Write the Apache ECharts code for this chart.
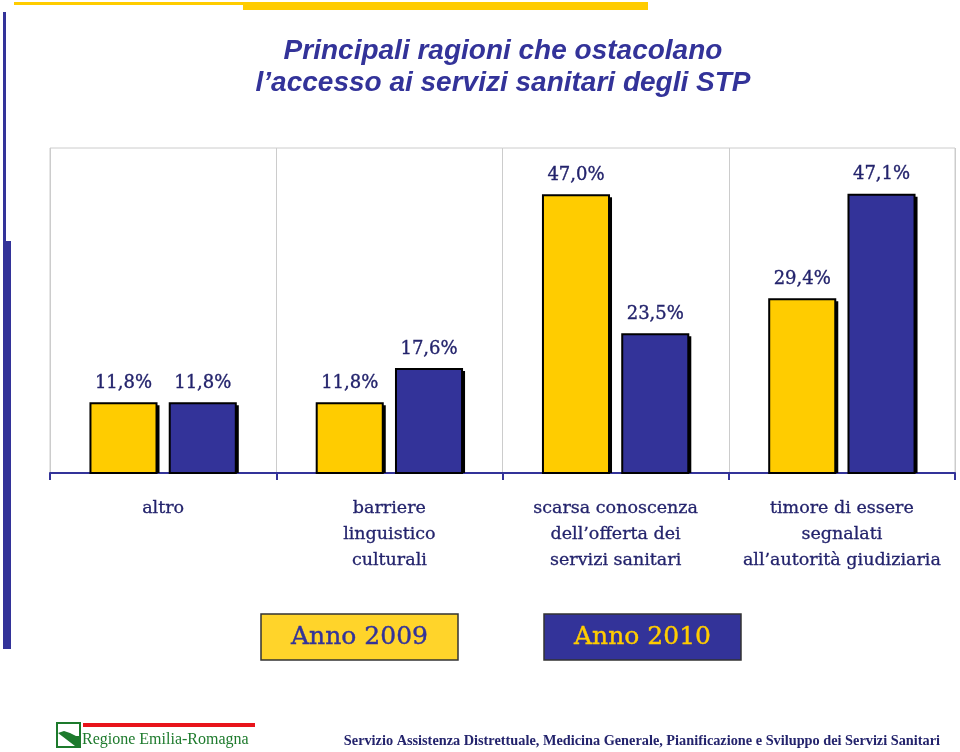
<!DOCTYPE html>
<html>
<head>
<meta charset="utf-8">
<script src="https://cdn.jsdelivr.net/npm/echarts@6/dist/echarts.min.js"></script>
<style>html,body{margin:0;padding:0;background:#fff;}#c{width:960px;height:752px;}</style>
</head>
<body>
<div id="c"></div>
<script>
const categories = ['altro', 'barriere\nlinguistico\nculturali', 'scarsa conoscenza\ndell\u2019offerta dei\nservizi sanitari', 'timore di essere\nsegnalati\nall\u2019autorità giudiziaria'];
const seriesNames = ['Anno 2009', 'Anno 2010'];
const values2009 = [11.8, 11.8, 47.0, 29.4];
const values2010 = [11.8, 17.6, 23.5, 47.1];
const titleLines = ['Principali ragioni che ostacolano', 'l\u2019accesso ai servizi sanitari degli STP'];
const footerLeft = 'Regione Emilia-Romagna';
const footerRight = 'Servizio Assistenza Distrettuale, Medicina Generale, Pianificazione e Sviluppo dei Servizi Sanitari';

const YELLOW = '#FFCC00', BLUE = '#333399', NAVY = '#23236C';
const COLORS = [YELLOW, BLUE];
const chart = echarts.init(document.getElementById('c'));
const fmt = v => v.toFixed(1).replace('.', ',') + '%';

function renderBar(params, api) {
  const idx = api.value(0), v = api.value(1);
  const base = api.coord([idx, 0]);
  const top = api.coord([idx, v]);
  const band = api.size([1, 0])[0];
  const w = band * 0.292, gap = w * 0.2;
  const cx = base[0] + (params.seriesIndex === 0 ? -1 : 1) * (w / 2 + gap / 2);
  const h = base[1] - top[1];
  return {
    type: 'group',
    children: [
      { type: 'rect', shape: { x: cx - w / 2 + 3, y: top[1] + 2, width: w, height: h - 2 }, style: { fill: '#000' } },
      {
        type: 'rect', shape: { x: cx - w / 2, y: top[1], width: w, height: h },
        style: { fill: COLORS[params.seriesIndex], stroke: '#000', lineWidth: 2 },
        textContent: { style: { text: fmt(v), fill: NAVY, font: '18px "DejaVu Serif"', stroke: NAVY, lineWidth: 0.35 } },
        textConfig: { position: 'top', distance: 10 }
      }
    ]
  };
}

chart.setOption({
  animation: false,
  title: {
    text: titleLines.join('\n'), left: 498, top: 30, textAlign: 'center',
    textStyle: { fontFamily: 'Liberation Sans', fontStyle: 'italic', fontWeight: 'bold', fontSize: 28, color: BLUE, lineHeight: 32 }
  },
  grid: { left: 50, right: 5, top: 148, bottom: 279, show: true, borderColor: '#cccccc', borderWidth: 1 },
  xAxis: {
    type: 'category', data: categories,
    axisLine: { lineStyle: { color: BLUE, width: 2 } },
    axisTick: { show: true, length: 7, lineStyle: { color: BLUE, width: 2 } },
    splitLine: { show: true, lineStyle: { color: '#cccccc', width: 1 } },
    axisLabel: { margin: 22, color: NAVY, textBorderColor: NAVY, textBorderWidth: 0.3, fontFamily: 'DejaVu Serif', fontSize: 17.5, lineHeight: 26, interval: 0 }
  },
  yAxis: { type: 'value', min: 0, max: 55, show: false, splitLine: { show: false } },
  series: [
    { name: seriesNames[0], type: 'custom', renderItem: renderBar, encode: { x: 0, y: 1 }, data: values2009.map((v, i) => [i, v]), z: 3 },
    { name: seriesNames[1], type: 'custom', renderItem: renderBar, encode: { x: 0, y: 1 }, data: values2010.map((v, i) => [i, v]), z: 3 }
  ],
  graphic: [
    { type: 'rect', shape: { x: 14, y: 2, width: 230, height: 3 }, style: { fill: YELLOW } },
    { type: 'rect', shape: { x: 243, y: 2, width: 405, height: 8 }, style: { fill: YELLOW } },
    { type: 'rect', shape: { x: 3, y: 12, width: 3, height: 230 }, style: { fill: BLUE } },
    { type: 'rect', shape: { x: 3, y: 241, width: 8, height: 408 }, style: { fill: BLUE } },
    { type: 'rect', shape: { x: 261, y: 614, width: 197, height: 46 }, style: { fill: '#FFD42A', stroke: '#333', lineWidth: 1.5 } },
    { type: 'text', x: 359.5, y: 637, style: { text: seriesNames[0], fill: BLUE, stroke: BLUE, lineWidth: 0.4, font: '25px "DejaVu Serif"', textAlign: 'center', textVerticalAlign: 'middle' } },
    { type: 'rect', shape: { x: 544, y: 614, width: 197, height: 46 }, style: { fill: BLUE, stroke: '#333', lineWidth: 1.5 } },
    { type: 'text', x: 642.5, y: 637, style: { text: seriesNames[1], fill: YELLOW, stroke: YELLOW, lineWidth: 0.4, font: '25px "DejaVu Serif"', textAlign: 'center', textVerticalAlign: 'middle' } },
    { type: 'rect', shape: { x: 57, y: 723, width: 23, height: 24 }, style: { fill: '#fff', stroke: '#1d7a2c', lineWidth: 2 } },
    { type: 'polygon', shape: { points: [[58, 733], [64, 731], [70, 733], [76, 736], [79, 736], [79, 746], [75, 746]] }, style: { fill: '#1d7a2c' } },
    { type: 'rect', shape: { x: 83, y: 723, width: 172, height: 4 }, style: { fill: '#e8141b' } },
    { type: 'text', x: 82, y: 740, style: { text: footerLeft, fill: '#1d7a2c', font: '16px "Liberation Serif"', textVerticalAlign: 'middle' } },
    { type: 'text', x: 940, y: 741, style: { text: footerRight, fill: NAVY, font: 'bold 14.3px "Liberation Serif"', textAlign: 'right', textVerticalAlign: 'middle' } }
  ]
});
</script>
</body>
</html>
